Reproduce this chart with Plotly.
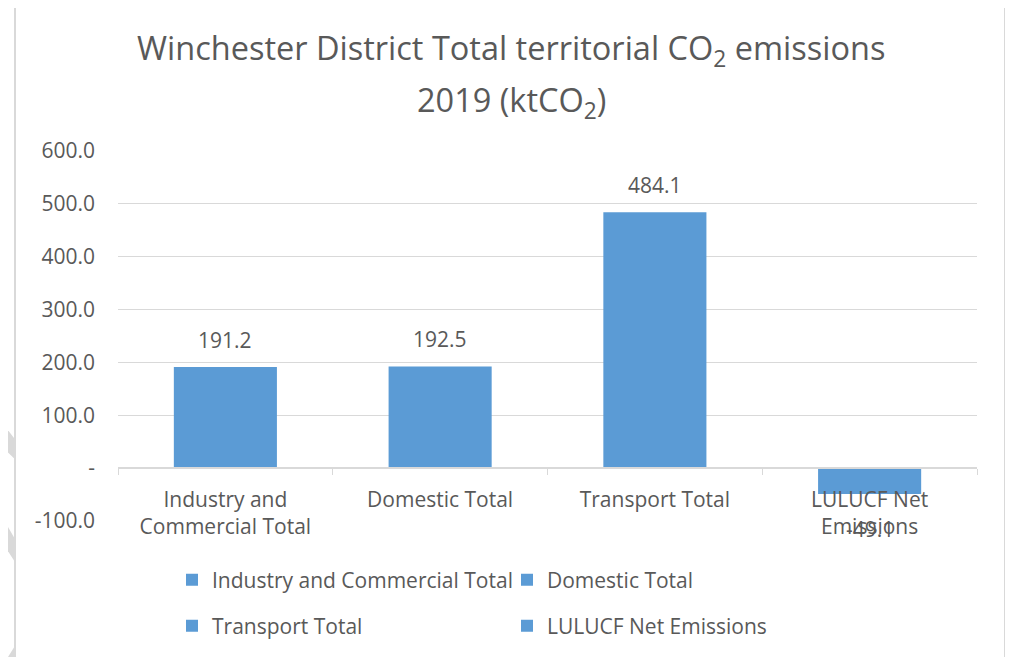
import plotly.graph_objects as go

# --- data -----------------------------------------------------------------
categories = ["Industry and Commercial Total", "Domestic Total",
              "Transport Total", "LULUCF Net Emissions"]
axis_labels = ["Industry and<br>Commercial Total", "Domestic Total",
               "Transport Total", "LULUCF Net<br>Emissions"]
values = [191.2, 192.5, 484.1, -49.1]
y_tickvals = [-100, 0, 100, 200, 300, 400, 500, 600]
y_ticktext = ["-100.0", "-", "100.0", "200.0", "300.0", "400.0", "500.0", "600.0"]

# --- style ----------------------------------------------------------------
OFF = 8                      # page body margin of the html output
W, H = 1013 - OFF, 657 - OFF
PL, PR, PT, PB = 118, 977, 151, 522   # plot area, in page pixels
ML, MR, MT, MB = PL - OFF, W - (PR - OFF), PT - OFF, H - (PB - OFF)
PW, PH = PR - PL, PB - PT
BAR = "#5B9BD5"
TEXT = "#595959"
GRID = "#D9D9D9"
FONT = "Open Sans"
FS = 21


def px(x, y):
    """page pixel position -> paper coordinates"""
    return (x - PL) / PW, (PB - y) / PH


fig = go.Figure()

for i, (cat, lab, v) in enumerate(zip(categories, axis_labels, values)):
    fig.add_trace(go.Bar(
        x=[lab], y=[v], name=cat,
        marker=dict(color=BAR, line_width=0),
        legend="legend" if i < 2 else "legend2",
        hoverinfo="skip",
    ))
    fig.add_annotation(
        x=lab, y=v, text=f"{v:.1f}", showarrow=False,
        yanchor="middle", yshift=27 if v >= 0 else -35,
        font=dict(family=FONT, size=FS, color=TEXT),
    )

# title (two lines, Excel spacing)
x0, y0 = px(511, 49)
fig.add_annotation(x=x0, y=y0, xref="paper", yref="paper", showarrow=False,
                   text="Winchester District Total territorial CO<sub>2</sub> emissions",
                   font=dict(family=FONT, size=32.5, color=TEXT), yanchor="middle")
x0, y0 = px(511, 101)
fig.add_annotation(x=x0, y=y0, xref="paper", yref="paper", showarrow=False,
                   text="2019 (ktCO<sub>2</sub>)",
                   font=dict(family=FONT, size=32.5, color=TEXT), yanchor="middle")

# chart frame, page decorations
fx0, fy0 = px(15, 5)
fx1, fy1 = px(1005, 662)
fig.add_shape(type="rect", xref="paper", yref="paper", x0=fx0, y0=fy1, x1=fx1, y1=fy0,
              line=dict(color=GRID, width=2), layer="below")
yx, yt = px(1008, -5)
_, yb = px(1008, 662)
fig.add_shape(type="line", xref="paper", yref="paper", x0=yx, x1=yx, y0=yb, y1=yt,
              line=dict(color="#FFFF00", width=4))
for pts in ([(-2, 418), (15, 440), (15, 460), (-2, 444)],
            [(-2, 511), (15, 540), (15, 563), (-2, 537)],
            [(7, 660), (15, 647), (15, 660)]):
    path = "M" + " L".join("%.5f,%.5f" % px(a, b) for a, b in pts) + " Z"
    fig.add_shape(type="path", xref="paper", yref="paper", path=path,
                  fillcolor=GRID, line_width=0, layer="below")

leg = dict(orientation="h", xanchor="left", yanchor="middle",
           entrywidth=290, font=dict(family=FONT, size=FS, color=TEXT),
           bgcolor="rgba(0,0,0,0)", itemclick=False)
lx, ly1 = px(172, 580)
_, ly2 = px(172, 626)

fig.update_layout(
    width=W, height=H,
    margin=dict(l=ML, r=MR, t=MT, b=MB),
    paper_bgcolor="white", plot_bgcolor="white",
    font=dict(family=FONT, size=FS, color=TEXT),
    barmode="overlay", bargap=0.52,
    showlegend=True,
    legend=dict(leg, x=lx, y=ly1),
    legend2=dict(leg, x=lx, y=ly2),
    xaxis=dict(
        anchor="free", position=100 / 700,
        showline=True, linecolor=GRID, linewidth=1.5,
        ticks="outside", tickson="boundaries", ticklen=6, tickcolor=GRID,
        showgrid=False, ticklabelstandoff=13,
        tickfont=dict(family=FONT, size=FS, color=TEXT),
    ),
    yaxis=dict(
        range=[-100, 600], tickvals=y_tickvals, ticktext=y_ticktext,
        showgrid=True, gridcolor=GRID, gridwidth=1, zeroline=False,
        showline=False, ticks="", ticklabelstandoff=22,
        tickfont=dict(family=FONT, size=FS, color=TEXT),
    ),
)

fig.write_html("out.html")
